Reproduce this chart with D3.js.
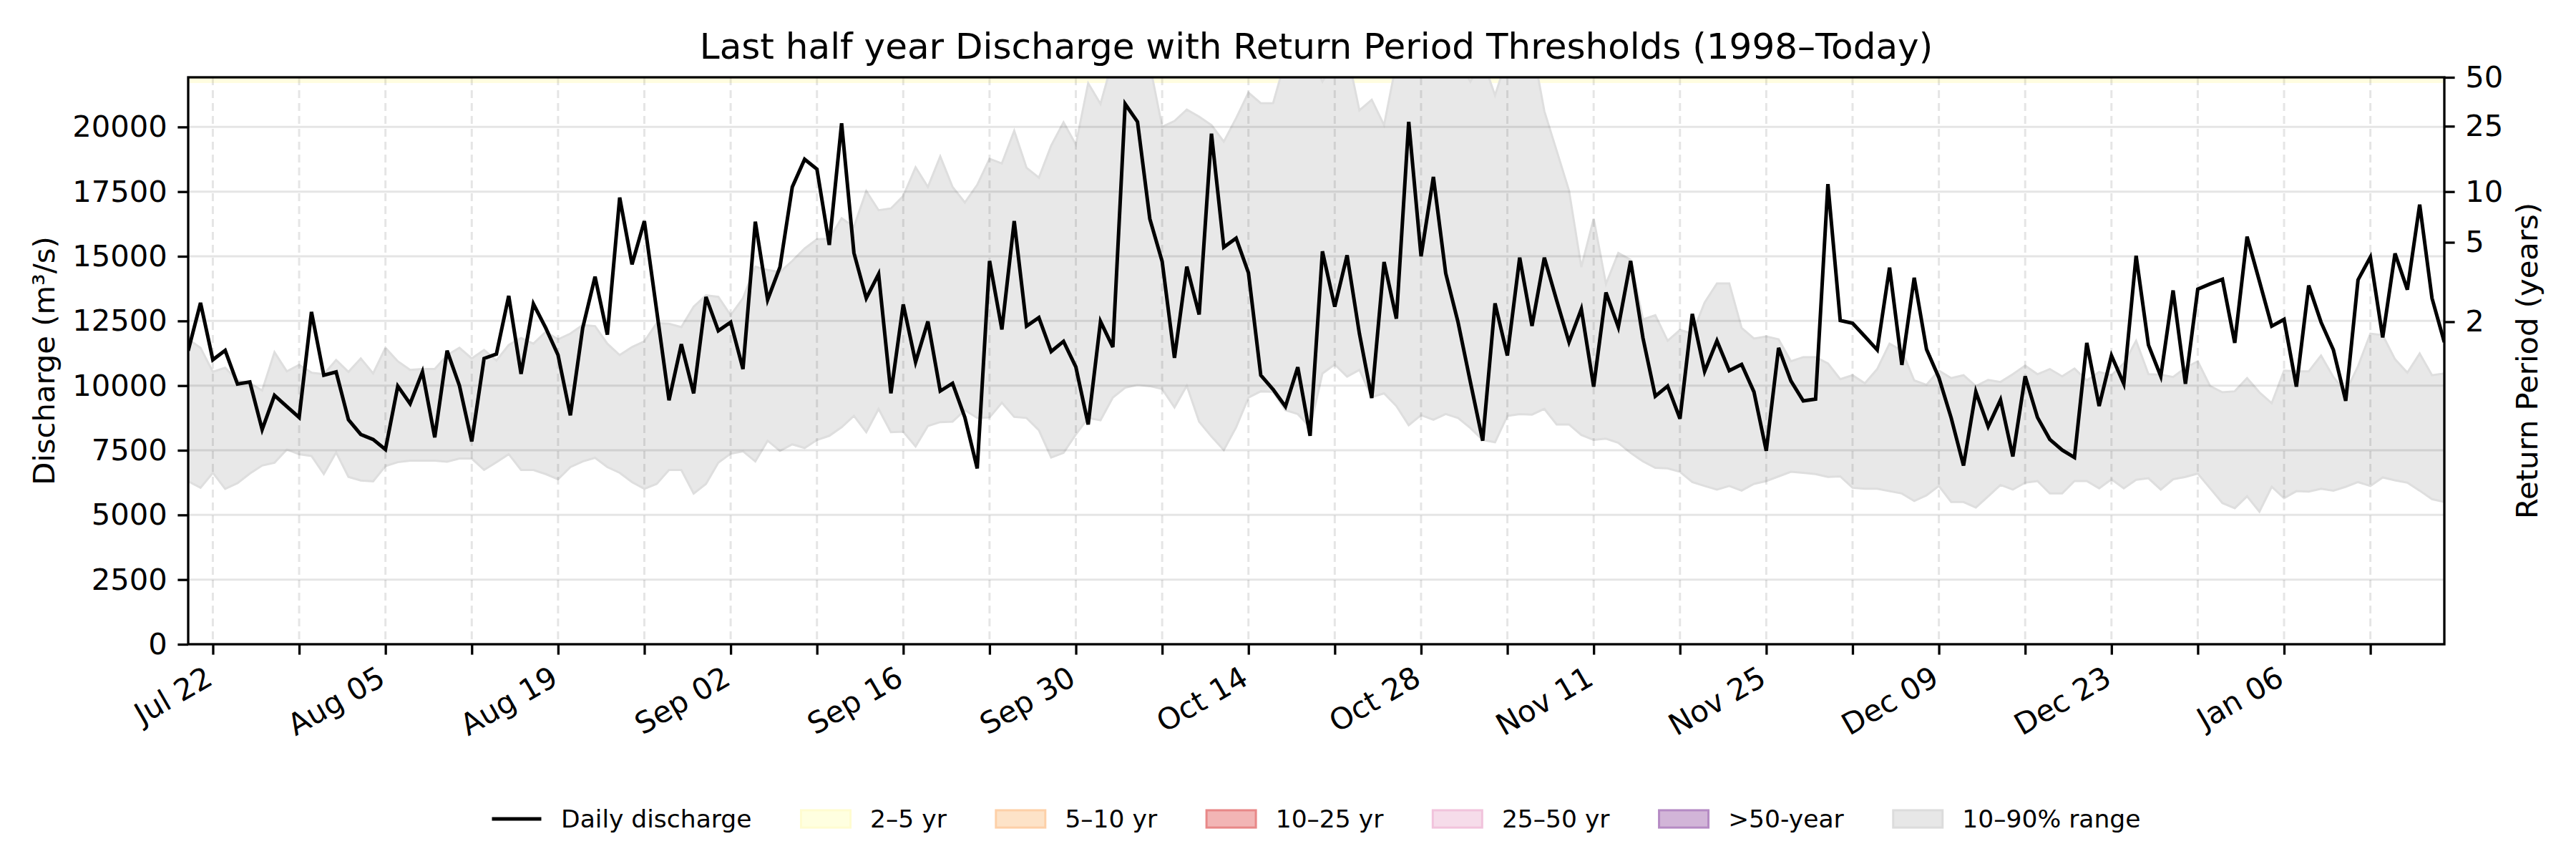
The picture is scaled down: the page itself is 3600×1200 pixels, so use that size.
<!DOCTYPE html>
<html>
<head>
<meta charset="utf-8">
<script src="https://cdn.jsdelivr.net/npm/d3@7/dist/d3.min.js"></script>
<style>
  body { margin: 0; background: #fff; }
  text { font-family: 'DejaVu Sans', sans-serif; fill: #000; }
</style>
</head>
<body>
<script>
// data
var startDate = '2024-07-20'

var discharge = [
  11350, 13200, 11000, 11360, 10060, 10140, 8300, 9620, 9190, 8770,
  12850, 10400, 10530, 8680, 8110, 7920, 7530, 9980, 9300, 10530,
  8000, 11350, 10000, 7840, 11050, 11220, 13470, 10450, 13160, 12230,
  11180, 8850, 12230, 14210, 11970, 17270, 14690, 16360, 12900, 9430,
  11600, 9700, 13430, 12120, 12450, 10640, 16340, 13320, 14580, 17680,
  18750, 18370, 15440, 20140, 15130, 13380, 14310, 9700, 13140, 10910,
  12480, 9790, 10090, 8770, 6800, 14820, 12170, 16360, 12300, 12630,
  11320, 11710, 10720, 8500, 12480, 11490, 20890, 20200, 16450, 14800,
  11070, 14600, 12750, 19740, 15350, 15700, 14360, 10400, 9850, 9190,
  10710, 8060, 15190, 13050, 15040, 12010, 9520, 14780, 12590, 20200,
  15000, 18070, 14340, 12450, 10140, 7870, 13180, 11160, 14950, 12310,
  14950, 13290, 11680, 12960, 9960, 13600, 12260, 14820, 11840, 9590,
  9980, 8720, 12770, 10550, 11730, 10580, 10820, 9760, 7480, 11460,
  10180, 9410, 9480, 17790, 12520, 12410, 11900, 11380, 14560, 10800,
  14170, 11400, 10310, 8750, 6910, 9760, 8420, 9450, 7260, 10360,
  8770, 7920, 7510, 7220, 11650, 9210, 11160, 10070, 15020, 11570,
  10360, 13680, 10070, 13730, 13930, 14110, 11650, 15760, 14040, 12300,
  12560, 9960, 13870, 12450, 11380, 9410, 14090, 14970, 11860, 15110,
  13710, 17000, 13380, 11680
]

// 90th percentile of the 1998-today record for each day
var p90 = [
  11800, 11460, 10530, 10690, 10200, 10090, 9810, 11290, 10550, 10800,
  10500, 10440, 10990, 10530, 11050, 10470, 11460, 10940, 10610, 10640,
  10640, 11180, 11460, 11050, 11380, 10970, 11570, 11840, 11620, 12080,
  11790, 12010, 12340, 12300, 11620, 11180, 11490, 11710, 12410, 12390,
  12260, 13050, 13490, 13430, 12720, 13380, 14600, 14470, 14390, 14820,
  15300, 15660, 15680, 16470, 16140, 17520, 16780, 16850, 17330, 18440,
  17680, 18860, 17680, 17080, 17760, 18770, 18590, 19850, 18420, 18040,
  19280, 20180, 19320, 21690, 20890, 22600, 23400, 23100, 22400, 20010,
  20230, 20670, 20400, 20070, 19430, 20340, 21330, 20920, 20920, 22600,
  23200, 22800, 21750, 22600, 22900, 20640, 21050, 20070, 22500, 23600,
  24000, 23800, 23200, 22600, 21750, 22600, 21220, 22700, 23500, 23200,
  20610, 19080, 17540, 14580, 16450, 13930, 15130, 14860, 12560, 12720,
  11730, 12150, 12010, 13210, 13950, 13950, 12230, 11820, 11900, 11790,
  10940, 11100, 11100, 10860, 10250, 10400, 10090, 10640, 11620, 11350,
  10200, 10030, 10580, 10290, 10400, 9980, 10220, 10140, 10440, 10770,
  10440, 10640, 10360, 10660, 10200, 10530, 10400, 10860, 11730, 10440,
  10420, 10330, 10690, 10940, 9980, 9740, 9780, 10290, 9740, 9320,
  10580, 10550, 10550, 11160, 10330, 9760, 10750, 12010, 11950, 11020,
  10500, 11240, 10400, 10470
]

// 10th percentile
var p10 = [
  6300, 6050, 6630, 6010, 6230, 6600, 6910, 7020, 7530, 7350,
  7280, 6580, 7420, 6470, 6330, 6300, 6890, 7040, 7100, 7100,
  7100, 7060, 7180, 7180, 6740, 7040, 7350, 6740, 6740, 6580,
  6380, 6850, 7070, 7210, 6850, 6630, 6270, 6010, 6200, 6740,
  6740, 5830, 6200, 7020, 7370, 7460, 7070, 7870, 7480, 7730,
  7590, 7900, 8060, 8390, 8830, 8200, 9100, 8200, 8220, 7650,
  8440, 8590, 8610, 9050, 8750, 8770, 9340, 8790, 8750, 8280,
  7220, 7400, 8110, 8750, 8660, 9540, 9920, 10030, 9980, 9870,
  9160, 10000, 8610, 8030, 7510, 8390, 9540, 9780, 9760, 9050,
  8900, 8390, 10470, 10820, 10350, 10610, 9560, 9700, 9210, 8470,
  8860, 8680, 8900, 8750, 8360, 7900, 7810, 8830, 8900, 8880,
  9100, 8500, 8500, 8090, 7900, 7950, 7790, 7400, 7070, 6820,
  6800, 6670, 6270, 6120, 5980, 6120, 5940, 6200, 6310, 6490,
  6670, 6630, 6580, 6470, 6490, 6050, 6010, 6010, 5920, 5830,
  5540, 5760, 6120, 5500, 5500, 5290, 5720, 6160, 5980, 6250,
  6310, 5830, 5830, 6310, 6310, 6030, 6380, 6030, 6360, 6420,
  5980, 6380, 6470, 6600, 6030, 5460, 5260, 5720, 5130, 6090,
  5650, 5920, 5900, 6010, 5940, 6090, 6270, 6120, 6450, 6340,
  6250, 5940, 5610, 5500
]

// return period thresholds (m3/s) and their labels on the right axis
var returnPeriods = [2, 5, 10, 25, 50]
var thresholds = [12470, 15540, 17500, 20030, 21920]

// thin 2-5 yr strip visible along the top edge
var band25 = [21700, 21920]

var yTicks = [0, 2500, 5000, 7500, 10000, 12500, 15000, 17500, 20000]

var weekTicks = ['2024-07-22', '2024-07-29', '2024-08-05', '2024-08-12', '2024-08-19',
  '2024-08-26', '2024-09-02', '2024-09-09', '2024-09-16', '2024-09-23', '2024-09-30',
  '2024-10-07', '2024-10-14', '2024-10-21', '2024-10-28', '2024-11-04', '2024-11-11',
  '2024-11-18', '2024-11-25', '2024-12-02', '2024-12-09', '2024-12-16', '2024-12-23',
  '2024-12-30', '2025-01-06', '2025-01-13']

var legendLabels = ['Daily discharge', '2–5 yr', '5–10 yr', '10–25 yr', '25–50 yr', '>50-year', '10–90% range']

// styles
var legendFill = [null, '#ffffe0', '#fde3c8', '#f2b5b5', '#f6dcea', '#d2b5d8', '#e7e7e7']
var legendEdge = [null, '#fffcd0', '#fdd0a8', '#e88888', '#f1c3dc', '#b58bc4', '#dcdcdc']

var w = 3600
var h = 1200
var m = { l: 263, r: 3416, t: 108, b: 900 }
var tickLen = 14.6
var tickPad = 14.6
var fs = 41.7

var parseDay = d3.timeParse('%Y-%m-%d')
var t0 = parseDay(startDate)

var rows = discharge.map(function (d, i) {
  return { date: d3.timeDay.offset(t0, i), q: d, lo: p10[i], hi: p90[i] }
})

var svg = d3.select('body')
  .append('svg')
  .attr('width', w)
  .attr('height', h)

var xScale = d3.scaleTime()
  .domain([rows[0].date, rows[rows.length - 1].date])
  .range([m.l, m.r])

var yScale = d3.scaleLinear()
  .domain([0, thresholds[thresholds.length - 1]])
  .range([m.b, m.t])

svg.append('clipPath').attr('id', 'plot')
  .append('rect')
  .attr('x', m.l).attr('y', m.t)
  .attr('width', m.r - m.l).attr('height', m.b - m.t)

var plot = svg.append('g').attr('clip-path', 'url(#plot)')

// 2-5 yr strip
plot.append('rect')
  .attr('x', m.l)
  .attr('width', m.r - m.l)
  .attr('y', yScale(band25[1]))
  .attr('height', yScale(band25[0]) - yScale(band25[1]))
  .attr('fill', '#fffde0')

// 10-90% range
var area = d3.area()
  .x(function (d) { return xScale(d.date) })
  .y0(function (d) { return yScale(d.lo) })
  .y1(function (d) { return yScale(d.hi) })

plot.append('path')
  .datum(rows)
  .attr('d', area)
  .attr('fill', '#e8e8e8')
  .attr('stroke', '#dedede')
  .attr('stroke-width', 3)

// grid
var tickDates = weekTicks.map(parseDay)

plot.selectAll('line.hgrid')
  .data(yTicks)
  .enter()
  .append('line')
  .attr('class', 'hgrid')
  .attr('x1', m.l).attr('x2', m.r)
  .attr('y1', function (d) { return yScale(d) })
  .attr('y2', function (d) { return yScale(d) })
  .attr('stroke', '#000')
  .attr('stroke-opacity', 0.1)
  .attr('stroke-width', 3)

plot.selectAll('line.vgrid')
  .data(tickDates)
  .enter()
  .append('line')
  .attr('class', 'vgrid')
  .attr('x1', function (d) { return xScale(d) })
  .attr('x2', function (d) { return xScale(d) })
  .attr('y1', m.t).attr('y2', m.b)
  .attr('stroke', '#000')
  .attr('stroke-opacity', 0.1)
  .attr('stroke-width', 3)
  .attr('stroke-dasharray', '11,7')

// daily discharge
var line = d3.line()
  .x(function (d) { return xScale(d.date) })
  .y(function (d) { return yScale(d.q) })

plot.append('path')
  .datum(rows)
  .attr('d', line)
  .attr('fill', 'none')
  .attr('stroke', '#000')
  .attr('stroke-width', 5)
  .attr('stroke-linejoin', 'miter')

// axes
var fmt = d3.timeFormat('%b %d')

var xAxis = d3.axisBottom(xScale)
  .tickValues(tickDates)
  .tickSize(tickLen)
  .tickSizeOuter(0)
  .tickPadding(tickPad)
  .tickFormat(function (d, i) { return i % 2 === 0 ? fmt(d) : '' })

var gx = svg.append('g')
  .attr('transform', 'translate(0,' + m.b + ')')
  .call(xAxis)

gx.selectAll('text')
  .attr('x', 0)
  .attr('y', 0)
  .attr('dy', '0.71em')
  .attr('transform', 'translate(-13,' + (tickLen + tickPad) + ') rotate(-30)')
  .style('text-anchor', 'end')

var yAxis = d3.axisLeft(yScale)
  .tickValues(yTicks)
  .tickSize(tickLen)
  .tickSizeOuter(0)
  .tickPadding(tickPad)
  .tickFormat(d3.format('d'))

var gy = svg.append('g')
  .attr('transform', 'translate(' + m.l + ',0)')
  .call(yAxis)

var yAxisR = d3.axisRight(yScale)
  .tickValues(thresholds)
  .tickSize(tickLen)
  .tickSizeOuter(0)
  .tickPadding(tickPad)
  .tickFormat(function (d, i) { return returnPeriods[i] })

var gr = svg.append('g')
  .attr('transform', 'translate(' + m.r + ',0)')
  .call(yAxisR)

;[gx, gy, gr].forEach(function (g) {
  g.select('.domain').remove()
  g.selectAll('line').attr('stroke', '#000').attr('stroke-width', 3.3)
  g.selectAll('text').style('font-size', fs + 'px').attr('fill', '#000')
})

// frame
svg.append('rect')
  .attr('x', m.l).attr('y', m.t)
  .attr('width', m.r - m.l).attr('height', m.b - m.t)
  .attr('fill', 'none')
  .attr('stroke', '#000')
  .attr('stroke-width', 3.3)

// title and labels
svg.append('text')
  .attr('x', (m.l + m.r) / 2)
  .attr('y', 82)
  .attr('text-anchor', 'middle')
  .style('font-size', '50px')
  .text('Last half year Discharge with Return Period Thresholds (1998–Today)')

svg.append('text')
  .attr('transform', 'translate(76,' + (m.t + m.b) / 2 + ') rotate(-90)')
  .attr('text-anchor', 'middle')
  .style('font-size', fs + 'px')
  .text('Discharge (m³/s)')

svg.append('text')
  .attr('transform', 'translate(3546,' + (m.t + m.b) / 2 + ') rotate(-90)')
  .attr('text-anchor', 'middle')
  .style('font-size', fs + 'px')
  .text('Return Period (years)')

// legend
var lfs = 34.5
var handleW = 2 * lfs
var handleGap = 0.8 * lfs
var colGap = 2 * lfs
var legY = 1144

var leg = svg.append('g')
var items = leg.selectAll('g')
  .data(legendLabels)
  .enter()
  .append('g')

items.append('text')
  .attr('x', handleW + handleGap)
  .attr('y', 0)
  .attr('dy', '0.35em')
  .style('font-size', lfs + 'px')
  .text(function (d) { return d })

var pos = 0
var offsets = []
items.each(function () {
  offsets.push(pos)
  pos += handleW + handleGap + this.querySelector('text').getComputedTextLength() + colGap
})
var totalW = pos - colGap
var legX = (m.l + m.r) / 2 - totalW / 2

items.attr('transform', function (d, i) {
  return 'translate(' + (legX + offsets[i]) + ',' + legY + ')'
})

items.each(function (d, i) {
  var g = d3.select(this)
  if (i === 0) {
    g.append('line')
      .attr('x1', 0).attr('x2', handleW)
      .attr('stroke', '#000').attr('stroke-width', 5)
  } else {
    g.append('rect')
      .attr('x', 0).attr('y', -0.35 * lfs)
      .attr('width', handleW).attr('height', 0.7 * lfs)
      .attr('fill', legendFill[i])
      .attr('stroke', legendEdge[i])
      .attr('stroke-width', 3)
  }
})
</script>
</body>
</html>
